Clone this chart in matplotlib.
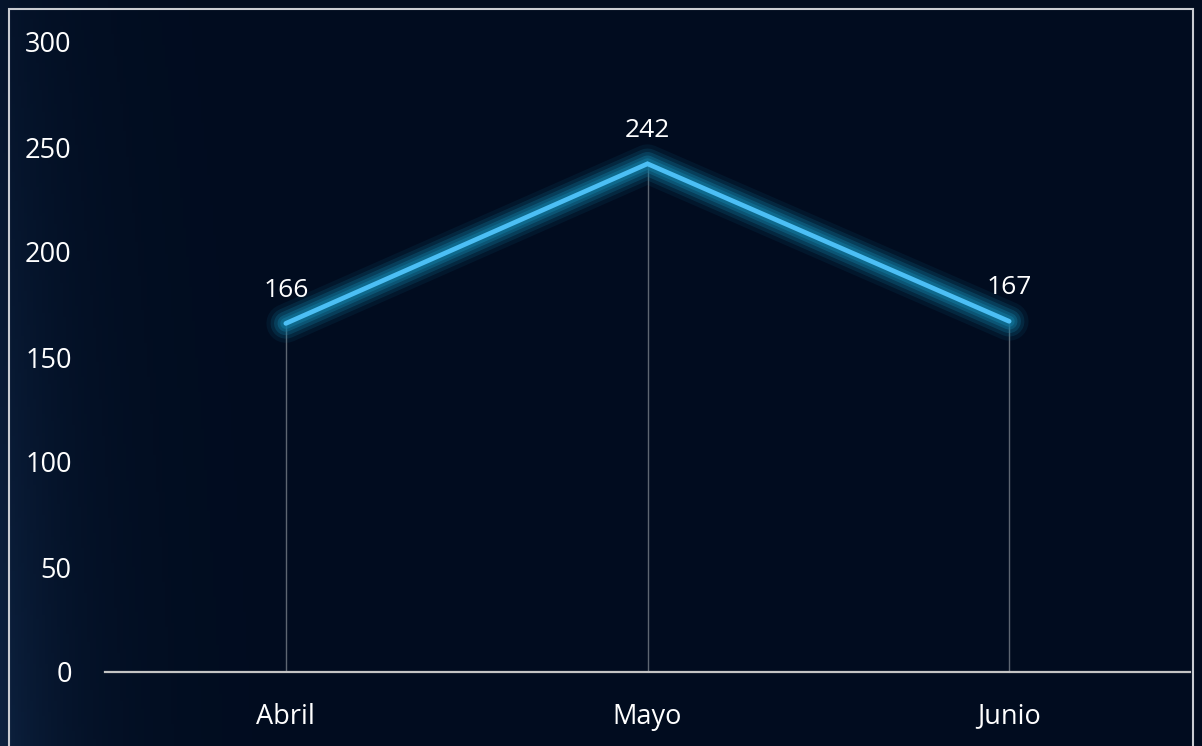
import matplotlib
matplotlib.use("Agg")
import matplotlib.pyplot as plt
import numpy as np
from matplotlib.patches import Rectangle

months = ["Abril", "Mayo", "Junio"]
values = [166, 242, 167]
y_ticks = [0, 50, 100, 150, 200, 250, 300]

W, H, DPI = 1202, 746, 100
plt.rcParams["font.family"] = ["Open Sans", "DejaVu Sans"]

fig = plt.figure(figsize=(W / DPI, H / DPI), dpi=DPI)

# background: dark navy, faintly lighter at the far left
bg = fig.add_axes([0, 0, 1, 1], zorder=-10)
gx = np.linspace(0, 1, 400)
gy = np.linspace(0, 1, 200)
X, Y = np.meshgrid(gx, gy)
glow = np.exp(-X / 0.06) * (0.4 + 0.6 * (1 - Y))
base = np.array([0x01, 0x0c, 0x1f]) / 255
edge = np.array([0x0d, 0x22, 0x40]) / 255
img = base + glow[..., None] * (edge - base)
bg.imshow(img, aspect="auto", extent=[0, 1, 0, 1], origin="lower")
bg.set_axis_off()

ax = fig.add_axes([105 / W, 74 / H, (1190 - 105) / W, (672 - 42) / H])
ax.set_facecolor("none")
x = np.arange(len(months))

# drop lines from each point to the axis
ax.vlines(x, 0, values, color="#5d6671", lw=1.0, zorder=1)

# glow under the line
for lw, a in [(28, 0.10), (22, 0.18), (17, 0.28), (12, 0.40), (8, 0.55)]:
    ax.plot(x, values, color="#127aa0", lw=lw, alpha=a, solid_capstyle="round",
            solid_joinstyle="round", zorder=2)
ax.plot(x, values, color="#4cbff5", lw=3.4, solid_capstyle="round",
        solid_joinstyle="miter", zorder=3)

for xi, v in zip(x, values):
    ax.annotate(str(v), (xi, v), xytext=(0, 15), textcoords="offset points",
                ha="center", va="bottom", color="white", fontsize=19)

ax.set_xlim(-0.5, 2.5)
ax.set_ylim(0, 300)
ax.set_xticks(x)
ax.set_xticklabels(months)
ax.set_yticks(y_ticks)
ax.tick_params(axis="both", length=0, colors="white", labelsize=19.5)
ax.tick_params(axis="y", pad=24)
ax.tick_params(axis="x", pad=22)
for s in ["top", "right", "left"]:
    ax.spines[s].set_visible(False)
ax.spines["bottom"].set_color("#c4c4c4")
ax.spines["bottom"].set_linewidth(1.6)
ax.spines["bottom"].set_zorder(4)

# thin light frame around the chart
fig.patches.append(Rectangle((8.5 / W, -0.05), (1193 - 8.5) / W, 1.05 - 9.5 / H,
                             transform=fig.transFigure, fill=False,
                             edgecolor="#c9ccd2", lw=1.5))

fig.savefig("out.png", dpi=DPI)
